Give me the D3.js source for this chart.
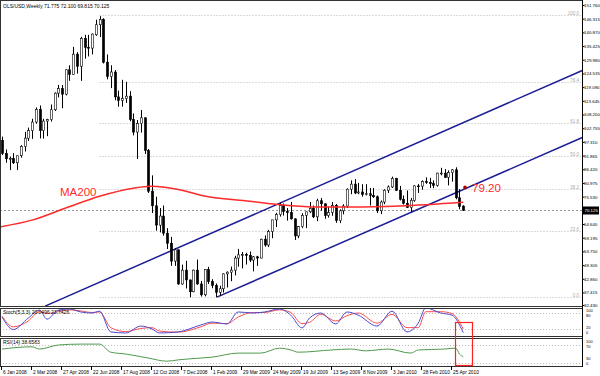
<!DOCTYPE html>
<html>
<head>
<meta charset="utf-8">
<script src="https://cdn.jsdelivr.net/npm/d3@7/dist/d3.min.js"></script>
<style>
body { margin: 0; background: #fff; }
svg { display: block; font-family: "Liberation Sans", Arial, sans-serif; }
</style>
</head>
<body>
<svg id="chart" width="600" height="376"></svg>
<script>
// weekly candles, first bar = week of 6 Jan 2008
const titleText = 'OLS/USD,Weekly  71.775 72.100 69.815 70.125';
const stochText = 'Stoch(5,3,3) 20.0496 23.7426';
const rsiText = 'RSI(14) 38.6583';

const opens = [97.9,92.7,90.6,90.7,89.0,91.8,95.5,98.8,101.8,105.2,110.2,101.8,105.6,106.2,110.1,116.7,118.5,116.3,126.0,124.1,
  132.2,127.4,138.5,134.9,134.6,139.9,143.9,146.0,129.0,123.3,125.1,115.2,113.8,114.6,115.5,106.2,101.2,104.6,106.9,93.9,
  77.7,71.9,64.2,67.8,61.0,57.0,49.9,54.4,40.8,46.3,42.4,37.7,46.3,40.8,36.5,46.5,41.7,40.2,37.5,38.9,
  44.8,45.5,46.3,51.1,52.4,52.5,52.2,50.3,51.6,51.1,58.6,56.3,61.7,66.3,68.4,72.0,69.6,69.2,66.7,59.9,
  63.6,68.1,69.5,70.9,67.5,73.9,72.7,68.0,69.3,72.0,66.0,69.9,71.8,78.5,80.5,77.0,77.4,76.4,76.7,76.0,
  75.5,69.9,73.4,78.1,79.4,82.8,78.0,74.5,72.9,71.2,74.1,79.8,79.7,81.5,81.2,80.7,80.0,84.9,84.9,83.2,
  85.1,86.2,75.1,71.775];
const highs = [99.4,94.3,91.5,92.8,91.8,96.0,101.3,103.0,106.5,111.0,111.8,106.5,106.5,112.2,117.0,120.0,119.9,126.2,127.8,135.1,
  133.0,139.1,139.9,139.9,140.4,145.9,147.3,146.5,132.1,127.8,125.9,117.7,122.0,121.2,117.5,108.6,106.0,110.0,107.0,94.5,
  84.0,75.5,71.0,72.0,63.0,59.5,55.0,54.5,48.5,50.0,42.5,46.5,50.5,42.0,46.5,47.6,42.7,41.0,40.1,45.0,
  45.8,47.7,52.0,54.7,53.5,53.2,53.7,51.9,52.0,58.8,60.1,62.3,66.3,69.1,73.2,72.8,71.0,73.4,66.9,63.9,
  68.9,69.5,73.4,72.0,74.7,75.0,72.8,71.5,73.4,72.6,70.5,72.5,78.8,82.0,82.5,81.0,80.5,80.5,79.0,79.0,
  76.0,74.0,78.5,80.0,83.5,83.0,79.8,76.0,78.0,75.0,80.0,80.5,82.0,83.2,83.0,82.0,85.0,87.0,86.5,86.0,
  86.5,87.2,78.5,72.1];
const lows = [92.1,89.0,86.1,88.5,86.1,91.0,93.5,97.7,98.5,104.5,98.7,98.6,99.6,105.4,109.6,115.0,110.7,115.8,121.6,124.0,
  124.5,121.6,130.4,131.3,132.1,139.5,139.0,128.5,122.2,118.7,113.9,111.3,111.3,112.8,105.5,99.9,90.5,101.0,92.5,77.0,
  69.0,62.0,61.3,60.0,54.7,48.0,48.0,40.5,40.5,39.0,35.5,37.5,40.5,35.8,35.9,40.8,39.1,35.5,36.0,37.4,
  39.4,41.9,44.2,47.7,47.0,48.5,49.5,45.8,48.0,51.0,55.6,55.5,59.0,63.4,67.6,68.0,66.0,66.4,58.3,59.0,
  63.0,63.0,69.0,67.0,65.8,70.0,66.7,67.2,67.9,65.1,65.0,68.5,71.0,76.5,76.5,76.5,75.5,76.0,72.0,75.0,
  69.0,68.6,72.5,77.0,79.0,77.8,74.0,72.4,71.0,69.5,73.5,77.0,78.3,80.6,79.0,78.9,79.5,84.0,83.0,80.0,
  81.5,74.5,70.5,69.815];
const closes = [92.7,90.6,90.7,89.0,91.8,95.5,98.8,101.8,105.2,110.2,101.8,105.6,106.2,110.1,116.7,118.5,116.3,126.0,124.1,132.2,
  127.4,138.5,134.9,134.6,140.2,143.9,146.0,129.0,123.3,125.1,115.2,113.8,114.6,115.5,106.2,101.2,104.6,106.9,93.9,77.7,
  71.9,64.2,67.8,61.0,57.0,49.9,54.4,40.8,46.3,42.4,37.7,46.3,40.8,36.5,46.5,41.7,40.2,37.5,38.9,44.8,
  45.5,46.3,51.1,52.4,52.5,52.2,50.3,51.6,51.1,58.6,56.3,61.7,66.3,68.4,72.0,69.6,69.2,66.7,59.9,63.6,
  68.1,69.5,70.9,67.5,73.9,72.7,68.0,69.3,72.0,66.0,69.9,71.8,78.5,80.5,77.0,77.4,76.4,76.7,76.0,75.5,
  69.9,73.4,78.1,79.4,82.8,78.0,74.5,72.9,71.2,74.1,79.8,79.7,81.5,81.2,80.7,80.0,84.9,84.9,83.2,85.1,
  86.2,75.1,71.6,70.125];

// x axis labels, one every 8 bars
const dateLabels = ['6 Jan 2008','2 Mar 2008','27 Apr 2008','22 Jun 2008','17 Aug 2008','12 Oct 2008','7 Dec 2008','1 Feb 2009',
  '29 Mar 2009','24 May 2009','19 Jul 2009','13 Sep 2009','8 Nov 2009','3 Jan 2010','28 Feb 2010','25 Apr 2010'];
const priceTicks = [151.760,146.315,140.870,135.425,129.980,124.535,119.090,113.645,108.200,102.755,97.310,91.865,
  86.420,80.975,75.530,64.640,59.195,53.750,48.305,42.860,37.415,32.430];

// MA200 (bar index, price)
const maBars = [-1,8,17,26,35,39.5,48,53,66,75,84,93,106,123];
const maValues = [63.4,66.2,71.0,75.7,78.9,79.7,78.1,76.1,73.7,72.2,71.4,71.4,71.8,73.3];

// channel lines as (bar, price) end points
const channelA = [[57.3,35.55],[155,99.2]];
const channelB = [[11.5,32.0],[155,125.9]];

const fibLevels = [100.0,76.4,61.8,50.0,38.2,23.6,0.0];
const fibHigh = 147.8, fibLow = 35.5, fibStartBar = 26;

const stochBars = [0,3,7,10,12,15,18,21,24,26,29,33,37,40,42,47,53,56,60,63,67,70,74,77,80,82,85,89,92,95,100,104,108,111,113,117,120,123];
const stochMain = [65,18,61,91,57,91,95,84,80,87,9,5,31,20,5,9,35,46,39,84,80,84,95,72,24,61,80,39,84,72,31,87,9,42,99,80,72,6];
const stochSignal = [68,28,50,85,78,85,92,88,82,84,25,10,22,25,12,8,28,42,40,65,82,82,92,82,40,45,75,50,70,80,42,75,25,25,85,85,78,20];
const stochLevels = [100, 80, 20, 0];

const rsiBars = [0,8,10,15,21,26,29,33,39,44,47,53,56,63,69,74,77,79,88,93,97,103,109,111,118,121,122,123];
const rsiValues = [61,66,61,70,72,72,54,50,41,34,37,41,43,52,52,63,59,54,59,61,57,61,52,59,61,63,50,44];
const rsiLevels = [100, 70, 30, 0];

const maLabel = 'MA200';
const markPrice = 79.2, markText = '79.20';

const svg = d3.select('#chart');
const plotRight = 582;
const main = {top: 0, bottom: 306};
const stochPanel = {top: 308, bottom: 336};
const rsiPanel = {top: 338, bottom: 366};
const smallFont = 4.8;
const axisFont = 4.4;

var x = d3.scaleLinear().domain([0, 123]).range([2, 463.25]);
var y = d3.scaleLinear().domain([32.43, 151.76]).range([305, 5]);
var yStoch = d3.scaleLinear().domain([0, 100]).range([334.3, 307.7]);
var yRsi = d3.scaleLinear().domain([0, 100]).range([376.5, 331.5]);

var defs = svg.append('defs');
[['clipMain', main], ['clipStoch', stochPanel], ['clipRsi', rsiPanel]].forEach(c => {
	defs.append('clipPath').attr('id', c[0]).append('rect')
		.attr('x', 1).attr('y', c[1].top + 1).attr('width', plotRight - 1).attr('height', c[1].bottom - c[1].top - 1);
});

// panel frames
[main, stochPanel, rsiPanel].forEach(p => {
	svg.append('rect').attr('x', 0.5).attr('y', p.top + 0.5)
		.attr('width', plotRight).attr('height', p.bottom - p.top)
		.attr('fill', 'none').attr('stroke', '#333').attr('stroke-width', 1);
});

var gMain = svg.append('g').attr('clip-path', 'url(#clipMain)');

// fibonacci levels
fibLevels.forEach(l => {
	var py = Math.round(y(fibLow + (fibHigh - fibLow) * l / 100)) + 0.5;
	gMain.append('line').attr('x1', x(fibStartBar)).attr('x2', plotRight).attr('y1', py).attr('y2', py)
		.attr('stroke', '#b8b8b8').attr('stroke-dasharray', '1,2');
	svg.append('text').attr('x', 579).attr('y', py - 1).attr('text-anchor', 'end')
		.attr('font-size', 4.5).attr('fill', '#aaa').text(l.toFixed(1));
});

// last price line
var lastY = Math.round(y(closes[closes.length - 1])) + 0.5;
gMain.append('line').attr('x1', 0).attr('x2', plotRight).attr('y1', lastY).attr('y2', lastY)
	.attr('stroke', '#999').attr('stroke-dasharray', '2,2');

// channel lines
[channelA, channelB].forEach(c => {
	gMain.append('line')
		.attr('x1', x(c[0][0])).attr('y1', y(c[0][1]))
		.attr('x2', x(c[1][0])).attr('y2', y(c[1][1]))
		.attr('stroke', '#1c1c96').attr('stroke-width', 1.5);
});

// candles
var bars = d3.range(closes.length).map(i => ({i: i, o: opens[i], h: highs[i], l: lows[i], c: closes[i]}));
var candle = gMain.selectAll('g.candle').data(bars).enter().append('g');
candle.append('line')
	.attr('x1', d => Math.round(x(d.i)) + 0.5).attr('x2', d => Math.round(x(d.i)) + 0.5)
	.attr('y1', d => y(d.h)).attr('y2', d => y(d.l))
	.attr('stroke', '#000').attr('stroke-width', 1);
candle.append('rect')
	.attr('x', d => Math.round(x(d.i)) - 0.6)
	.attr('width', 2.2)
	.attr('y', d => y(Math.max(d.o, d.c)))
	.attr('height', d => Math.max(0.8, Math.abs(y(d.o) - y(d.c))))
	.attr('fill', d => d.c >= d.o ? '#fff' : '#000')
	.attr('stroke', '#000').attr('stroke-width', 0.6);

// MA200
gMain.append('path')
	.datum(maBars.map((b, k) => [b, maValues[k]]))
	.attr('d', d3.line().x(d => x(d[0])).y(d => y(d[1])).curve(d3.curveMonotoneX))
	.attr('fill', 'none').attr('stroke', '#ff2a2a').attr('stroke-width', 1.5);

svg.append('text').attr('x', 60).attr('y', 196).attr('font-size', 11.5)
	.attr('fill', '#ff2a2a').text(maLabel);
svg.append('circle').attr('cx', 465).attr('cy', y(markPrice)).attr('r', 1.8).attr('fill', '#b00000');
svg.append('text').attr('x', 472).attr('y', y(markPrice) + 5).attr('font-size', 11.5)
	.attr('fill', '#ff2a2a').text(markText);

// stochastic
var gStoch = svg.append('g').attr('clip-path', 'url(#clipStoch)');
[20, 80].forEach(v => {
	gStoch.append('line').attr('x1', 0).attr('x2', plotRight)
		.attr('y1', Math.round(yStoch(v)) + 0.5).attr('y2', Math.round(yStoch(v)) + 0.5)
		.attr('stroke', '#bbb').attr('stroke-dasharray', '1,2');
});
[[stochSignal, '#ff4d4d'], [stochMain, '#4b4bd0']].forEach(s => {
	gStoch.append('path')
		.datum(stochBars.map((b, k) => [b, s[0][k]]))
		.attr('d', d3.line().x(d => x(d[0])).y(d => yStoch(d[1])).curve(d3.curveMonotoneX))
		.attr('fill', 'none').attr('stroke', s[1]).attr('stroke-width', 1);
});

// RSI
var gRsi = svg.append('g').attr('clip-path', 'url(#clipRsi)');
[30, 70].forEach(v => {
	gRsi.append('line').attr('x1', 0).attr('x2', plotRight)
		.attr('y1', Math.round(yRsi(v)) + 0.5).attr('y2', Math.round(yRsi(v)) + 0.5)
		.attr('stroke', '#bbb').attr('stroke-dasharray', '1,2');
});
gRsi.append('path')
	.datum(rsiBars.map((b, k) => [b, rsiValues[k]]))
	.attr('d', d3.line().x(d => x(d[0])).y(d => yRsi(d[1])).curve(d3.curveMonotoneX))
	.attr('fill', 'none').attr('stroke', '#4f9a4f').attr('stroke-width', 1);

// panel captions
svg.append('text').attr('x', 3).attr('y', 8).attr('font-size', 5).attr('fill', '#000').text(titleText);
svg.append('text').attr('x', 3).attr('y', 314).attr('font-size', 5).attr('fill', '#000').text(stochText);
svg.append('text').attr('x', 3).attr('y', 344).attr('font-size', 5).attr('fill', '#000').text(rsiText);

// right price axis
svg.append('line').attr('x1', plotRight + 0.5).attr('x2', plotRight + 0.5).attr('y1', 0).attr('y2', 367)
	.attr('stroke', '#000');
var axis = svg.append('g').attr('transform', 'translate(' + (plotRight + 0.5) + ',0)')
	.call(d3.axisRight(y).tickValues(priceTicks).tickSize(2).tickFormat(d3.format('.3f')));
axis.select('.domain').remove();
axis.selectAll('text')
	.attr('font-size', axisFont).attr('font-family', '"Liberation Sans", Arial, sans-serif')
	.attr('x', 1.5);

var lastLabel = svg.append('g');
lastLabel.append('rect').attr('x', plotRight + 1).attr('y', lastY - 4).attr('width', 16).attr('height', 8).attr('fill', '#000');
lastLabel.append('text').attr('x', plotRight + 2.5).attr('y', lastY + 1.8).attr('font-size', axisFont).attr('fill', '#fff')
	.text(closes[closes.length - 1].toFixed(3));

// sub-window scale labels
[[yStoch, stochLevels], [yRsi, rsiLevels]].forEach(a => {
	var pos = a[0] === yStoch ? [310, 315, 327, 332.5] : [341, 346, 358, 363.5];
	a[1].forEach((v, k) => {
		svg.append('text').attr('x', plotRight + 4).attr('y', pos[k] + 1.5).attr('font-size', 4)
			.attr('fill', '#000').text(v);
	});
});

// bottom time axis
var gx = svg.append('g');
dateLabels.forEach((t, k) => {
	var px = Math.round(x(k * 8)) - 0.5;
	gx.append('line').attr('x1', px).attr('x2', px).attr('y1', 366).attr('y2', 370).attr('stroke', '#000');
	gx.append('text').attr('x', px + 1.5).attr('y', 374).attr('font-size', smallFont).attr('fill', '#000').text(t);
});

// highlight box around the last bars
svg.append('rect').attr('x', 455.5).attr('y', 322.5).attr('width', 17).attr('height', 43)
	.attr('fill', 'none').attr('stroke', '#ff2020').attr('stroke-width', 1.2);
</script>
</body>
</html>
